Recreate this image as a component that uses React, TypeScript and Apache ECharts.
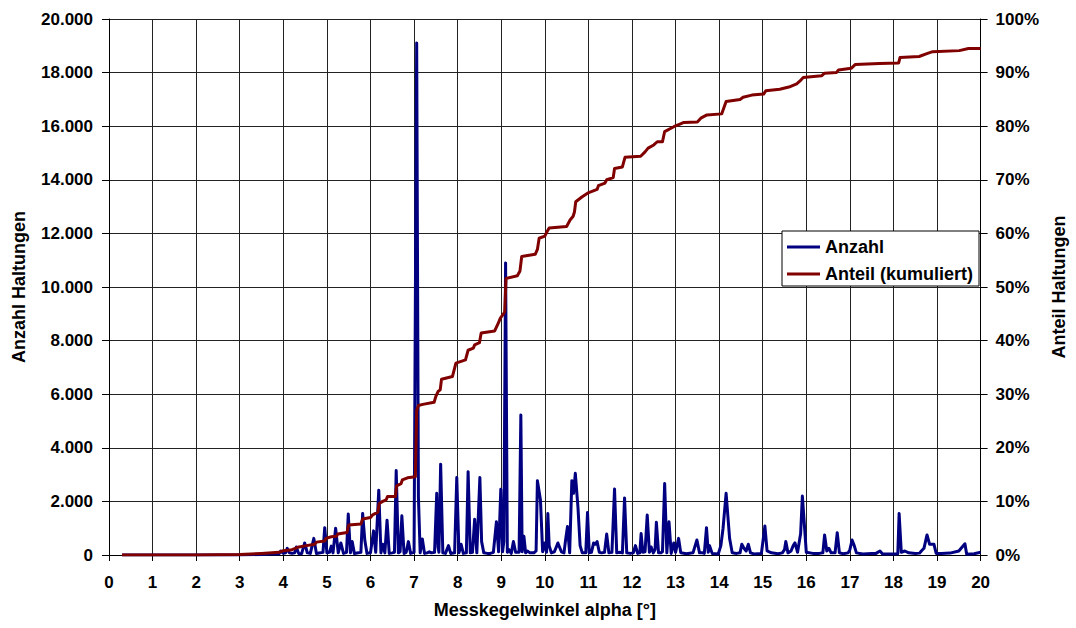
import React, { useEffect, useRef } from "react";
import * as echarts from "echarts";

// Anzahl Haltungen (left axis) – angle / count pairs
const anzahlAngle = [
  0.3, 1, 2, 3, 3.5, 3.8, 3.9, 3.94, 4.0, 4.05, 4.09, 4.14, 4.2, 4.26, 4.3, 4.35, 4.42, 4.49, 4.55, 4.62,
  4.7, 4.76, 4.85, 4.91, 4.95, 5.0, 5.06, 5.1, 5.14, 5.2, 5.26, 5.32, 5.38, 5.45, 5.49, 5.54, 5.58, 5.63,
  5.72, 5.78, 5.82, 5.87, 5.92, 6.0, 6.07, 6.12, 6.19, 6.24, 6.28, 6.33, 6.38, 6.43, 6.5, 6.55, 6.59, 6.64,
  6.68, 6.72, 6.77, 6.82, 6.87, 6.92, 7.0, 7.06, 7.1, 7.14, 7.19, 7.24, 7.3, 7.35, 7.4, 7.47, 7.52, 7.55,
  7.57, 7.61, 7.66, 7.72, 7.79, 7.84, 7.93, 7.98, 8.03, 8.08, 8.13, 8.2, 8.24, 8.29, 8.34, 8.39, 8.44,
  8.51, 8.55, 8.6, 8.68, 8.75, 8.82, 8.89, 8.94, 8.99, 9.03, 9.06, 9.1, 9.14, 9.18, 9.23, 9.28, 9.33,
  9.41, 9.45, 9.48, 9.52, 9.56, 9.6, 9.66, 9.75, 9.8, 9.83, 9.9, 9.95, 10.0, 10.04, 10.07, 10.1, 10.15,
  10.22, 10.3, 10.38, 10.44, 10.48, 10.52, 10.57, 10.62, 10.66, 10.7, 10.76, 10.81, 10.86, 10.94, 10.98,
  11.02, 11.07, 11.12, 11.16, 11.2, 11.25, 11.3, 11.37, 11.42, 11.47, 11.54, 11.6, 11.65, 11.72, 11.78,
  11.83, 11.88, 11.96, 12.03, 12.08, 12.13, 12.18, 12.21, 12.25, 12.3, 12.35, 12.4, 12.44, 12.49, 12.53,
  12.56, 12.61, 12.66, 12.7, 12.75, 12.8, 12.85, 12.9, 12.96, 13.0, 13.07, 13.12, 13.25, 13.4, 13.49,
  13.55, 13.62, 13.66, 13.71, 13.75, 13.78, 13.84, 13.98, 14.04, 14.09, 14.16, 14.24, 14.3, 14.4, 14.48,
  14.52, 14.57, 14.62, 14.67, 14.72, 14.8, 14.97, 15.05, 15.1, 15.2, 15.35, 15.45, 15.5, 15.53, 15.58,
  15.65, 15.7, 15.74, 15.8, 15.87, 15.91, 16.0, 16.15, 16.3, 16.38, 16.42, 16.47, 16.52, 16.57, 16.66,
  16.71, 16.76, 16.85, 16.96, 17.0, 17.05, 17.1, 17.15, 17.3, 17.5, 17.6, 17.69, 17.75, 18.0, 18.1,
  18.13, 18.18, 18.26, 18.35, 18.5, 18.6, 18.64, 18.7, 18.77, 18.83, 18.93, 18.98, 19.1, 19.3, 19.5,
  19.64, 19.68, 19.85, 20.0,
];
const anzahlCount = [
  0, 0, 0, 0, 20, 50, 40, 150, 60, 80, 250, 80, 60, 80, 300, 60, 50, 450, 80, 60,
  620, 60, 80, 100, 1020, 80, 100, 330, 80, 1000, 80, 450, 60, 100, 1530, 80, 500, 60,
  80, 100, 1550, 550, 60, 80, 900, 100, 2420, 80, 400, 80, 1300, 60, 80, 100, 3150, 80,
  120, 1460, 60, 100, 500, 60, 100, 19100, 2150, 80, 600, 60, 80, 120, 80, 100, 2300, 300,
  100, 3390, 80, 60, 350, 60, 80, 2890, 80, 400, 60, 80, 3110, 80, 100, 1330, 80,
  2890, 500, 80, 60, 60, 100, 1240, 120, 2450, 120, 500, 10900, 100, 200, 60, 500, 100,
  100, 5220, 120, 700, 80, 150, 80, 80, 150, 2770, 2050, 120, 450, 100, 1550, 350, 80,
  120, 450, 120, 80, 600, 1060, 80, 2770, 2300, 3050, 1800, 350, 80, 80, 1590,
  80, 100, 450, 400, 500, 100, 80, 100, 780, 80, 100, 2460, 80, 100, 80,
  2130, 80, 60, 80, 350, 60, 80, 800, 100, 120, 1490, 100, 300, 80, 200,
  1220, 80, 80, 120, 2670, 80, 1240, 60, 450, 100, 620, 80, 50, 80, 560,
  80, 80, 60, 1020, 100, 350, 60, 40, 350, 1000, 2300, 620, 80, 60, 80,
  400, 250, 150, 400, 80, 40, 60, 1080, 150, 80, 50, 80, 200, 500, 80,
  150, 350, 450, 100, 800, 2200, 100, 60, 60, 80, 750, 150, 250, 80, 80,
  830, 80, 50, 80, 200, 560, 350, 80, 40, 60, 60, 150, 40, 40, 50,
  1550, 100, 150, 80, 60, 70, 150, 250, 750, 400, 400, 60, 60, 70, 150,
  420, 30, 50, 100,
];

// Anteil (kumuliert) in % (right axis)
const anteilAngle = [
  0.3, 2.0, 3.0, 3.5, 3.9, 4.0, 4.2, 4.36, 4.5, 4.72, 4.76, 4.95, 4.98, 5.1, 5.22, 5.25, 5.46, 5.5,
  5.78, 5.82, 6.0, 6.05, 6.17, 6.2, 6.28, 6.36, 6.39, 6.57, 6.6, 6.7, 6.73, 6.85, 7.03, 7.06, 7.1,
  7.2, 7.46, 7.5, 7.55, 7.6, 7.63, 7.88, 7.96, 8.18, 8.24, 8.36, 8.39, 8.5, 8.54, 8.85, 8.93, 8.98,
  9.06, 9.08, 9.11, 9.37, 9.43, 9.47, 9.78, 9.83, 9.87, 10.0, 10.05, 10.1, 10.5, 10.58, 10.65, 10.68,
  10.71, 10.85, 10.98, 11.2, 11.23, 11.38, 11.42, 11.57, 11.6, 11.78, 11.84, 12.2, 12.3, 12.37, 12.5,
  12.58, 12.7, 12.75, 12.96, 13.1, 13.19, 13.5, 13.58, 13.72, 14.06, 14.16, 14.48, 14.55, 14.75,
  15.02, 15.07, 15.39, 15.6, 15.78, 15.85, 15.93, 16.35, 16.42, 16.69, 16.74, 17.03, 17.12, 17.68,
  18.12, 18.15, 18.59, 18.75, 18.9, 19.51, 19.72, 20.0,
];
const anteilPct = [
  0, 0, 0.1, 0.3, 0.5, 0.8, 1.0, 1.5, 1.7, 2.0, 2.4, 2.6, 3.1, 3.4, 3.5, 3.9, 4.2, 5.6,
  5.8, 6.7, 7.0, 7.5, 8.0, 9.6, 10.0, 10.3, 10.9, 10.9, 12.9, 13.3, 14.0, 14.4, 14.6, 27.0, 27.9,
  28.1, 28.5, 29.6, 30.5, 30.8, 32.8, 33.3, 35.8, 36.4, 38.2, 38.6, 39.2, 39.6, 41.4, 41.8, 43.2, 44.2,
  45.1, 45.4, 51.6, 52.1, 53.0, 55.7, 56.1, 57.0, 59.1, 59.5, 60.3, 61.0, 61.3, 62.5, 63.2, 64.0,
  65.9, 66.8, 67.5, 68.2, 68.9, 69.4, 70.0, 70.4, 72.1, 72.4, 74.2, 74.4, 75.2, 75.9, 76.5,
  77.1, 77.1, 79.0, 79.9, 80.4, 80.7, 80.8, 81.5, 82.1, 82.3, 84.6, 85.0, 85.4, 85.8,
  86.0, 86.6, 86.9, 87.3, 87.9, 88.4, 89.1, 89.4, 89.9, 90.0, 90.5, 90.8, 91.5, 91.7,
  91.8, 92.8, 93.0, 93.5, 93.9, 94.1, 94.5, 94.5,
];

const seriesNames = ["Anzahl", "Anteil (kumuliert)"];
const xAxisTitle = "Messkegelwinkel alpha [°]";
const leftAxisTitle = "Anzahl Haltungen";
const rightAxisTitle = "Anteil Haltungen";

const FONT = "'Liberation Sans', Arial, Helvetica, sans-serif";

function fmtThousands(v: number): string {
  return String(Math.round(v)).replace(/\B(?=(\d{3})+(?!\d))/g, ".");
}

export default function App() {
  const ref = useRef<HTMLDivElement>(null);

  useEffect(() => {
    document.body.style.margin = "0";
    if (!ref.current) return;
    const chart = echarts.init(ref.current, undefined, { renderer: "svg" });

    const blueData = anzahlAngle.map((x, i) => [x, anzahlCount[i]]);
    const redData = anteilAngle.map((x, i) => [x, anteilPct[i]]);

    const labelStyle = {
      color: "#000",
      fontFamily: FONT,
      fontWeight: "bold" as const,
      fontSize: 17,
    };
    const nameStyle = {
      color: "#000",
      fontFamily: FONT,
      fontWeight: "bold" as const,
      fontSize: 18,
    };
    const gridLine = { show: true, lineStyle: { color: "#222", width: 1 } };

    chart.setOption({
      animation: false,
      backgroundColor: "#fff",
      grid: { left: 109, right: 91, top: 19, bottom: 73, containLabel: false },
      legend: {
        orient: "vertical",
        left: 782,
        top: 231,
        backgroundColor: "#fff",
        borderColor: "#000",
        borderWidth: 1,
        borderRadius: 0,
        padding: [7, 6, 3, 5],
        itemGap: 9,
        itemWidth: 33,
        itemHeight: 3,
        icon: "rect",
        textStyle: { ...nameStyle, fontSize: 18 },
        data: seriesNames,
      },
      xAxis: {
        type: "value",
        min: 0,
        max: 20,
        interval: 1,
        name: xAxisTitle,
        nameLocation: "middle",
        nameGap: 46,
        nameTextStyle: nameStyle,
        axisLine: { show: true, onZero: false, lineStyle: { color: "#000", width: 1 } },
        axisTick: { show: true, length: 6, lineStyle: { color: "#000" } },
        axisLabel: { ...labelStyle, margin: 19 },
        splitLine: gridLine,
      },
      yAxis: [
        {
          type: "value",
          min: 0,
          max: 20000,
          interval: 2000,
          position: "left",
          name: leftAxisTitle,
          nameLocation: "middle",
          nameGap: 81,
          nameTextStyle: nameStyle,
          axisLine: { show: true, lineStyle: { color: "#000", width: 1 } },
          axisTick: { show: true, length: 7, lineStyle: { color: "#000" } },
          axisLabel: { ...labelStyle, margin: 16, formatter: (v: number) => fmtThousands(v) },
          splitLine: gridLine,
        },
        {
          type: "value",
          min: 0,
          max: 100,
          interval: 10,
          position: "right",
          name: rightAxisTitle,
          nameLocation: "middle",
          nameGap: 67,
          nameTextStyle: nameStyle,
          axisLine: { show: true, lineStyle: { color: "#000", width: 1 } },
          axisTick: { show: true, length: 7, lineStyle: { color: "#000" } },
          axisLabel: { ...labelStyle, margin: 15, formatter: "{value}%" },
          splitLine: { show: false },
        },
      ],
      series: [
        {
          name: seriesNames[0],
          type: "line",
          yAxisIndex: 0,
          data: blueData,
          showSymbol: false,
          symbol: "none",
          lineStyle: { color: "#000080", width: 3, join: "round" },
          itemStyle: { color: "#000080" },
          z: 2,
        },
        {
          name: seriesNames[1],
          type: "line",
          yAxisIndex: 1,
          data: redData,
          showSymbol: false,
          symbol: "none",
          lineStyle: { color: "#800000", width: 3, join: "round" },
          itemStyle: { color: "#800000" },
          z: 3,
        },
      ],
    });

    return () => chart.dispose();
  }, []);

  return <div ref={ref} style={{ width: 1076, height: 628 }} />;
}
